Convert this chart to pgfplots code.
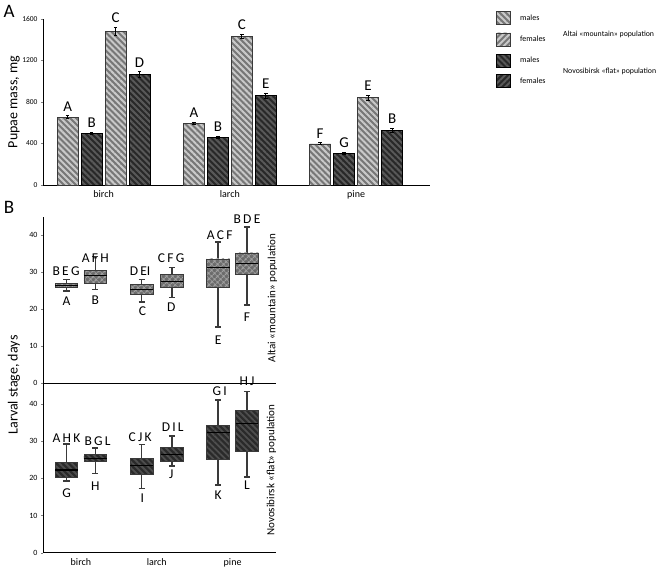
\documentclass[border=0pt]{standalone}
\usepackage{fontspec}
\setmainfont{Carlito}
\usepackage{pgfplots}
\pgfplotsset{compat=1.18}
\usepgfplotslibrary{statistics}
\usetikzlibrary{patterns.meta}

\definecolor{lmfill}{HTML}{777777}
\definecolor{lmline}{HTML}{C9C9C9}
\definecolor{dkfill}{HTML}{282828}
\definecolor{dkline}{HTML}{595959}
\definecolor{chkfill}{HTML}{6A6A6A}
\definecolor{chkline}{HTML}{A0A0A0}
\definecolor{boxdk}{HTML}{2A2A2A}
\definecolor{boxdkline}{HTML}{4E4E4E}
\definecolor{outl}{HTML}{3A3A3A}

\tikzset{
  lightM/.style={fill=lmfill, draw=outl, line width=0.6pt,
    postaction={pattern={Lines[angle=-45,distance=4.3pt,line width=2pt]}, pattern color=lmline}},
  lightF/.style={fill=lmfill, draw=outl, line width=0.6pt,
    postaction={pattern={Lines[angle=45,distance=4.3pt,line width=2pt]}, pattern color=lmline}},
  darkM/.style={fill=dkfill, draw=black, line width=0.6pt,
    postaction={pattern={Lines[angle=-45,distance=4.3pt,line width=2pt]}, pattern color=dkline}},
  darkF/.style={fill=dkfill, draw=black, line width=0.6pt,
    postaction={pattern={Lines[angle=45,distance=4.3pt,line width=2pt]}, pattern color=dkline}},
  lblA/.style={font=\fontsize{15}{16}\selectfont, anchor=base, inner sep=0pt},
  lblB/.style={font=\fontsize{13.5}{15}\selectfont, inner sep=0pt},
}
\pgfplotsset{
  sqlegend/.style={legend image code/.code={\draw[##1] (0pt,-6.5pt) rectangle (14pt,6.5pt);}},
  boxU/.style={draw=outl, line width=0.8pt,
    boxplot/every box/.style={fill=chkfill, draw=outl, line width=0.8pt,
      postaction={pattern={Hatch[angle=45,distance=4pt,line width=1.1pt]}, pattern color=chkline}},
    boxplot/every whisker/.style={draw=outl, line width=1.6pt},
    boxplot/every median/.style={draw=black, line width=1.1pt}},
  boxL/.style={draw=outl, line width=0.8pt,
    boxplot/every box/.style={fill=boxdk, draw=outl, line width=0.8pt,
      postaction={pattern={Lines[angle=-45,distance=4.3pt,line width=1.8pt]}, pattern color=boxdkline}},
    boxplot/every whisker/.style={draw=outl, line width=1.6pt},
    boxplot/every median/.style={draw=black, line width=1.1pt}},
}

\pgfplotstableread{
x y e l
0 652 15 A
1 592 12 A
2 397 10 F
}\altM
\pgfplotstableread{
x y e l
0 495 12 B
1 458 12 B
2 306 8 G
}\novM
\pgfplotstableread{
x y e l
0 1482 38 C
1 1432 22 C
2 841 25 E
}\altF
\pgfplotstableread{
x y e l
0 1063 30 D
1 862 25 E
2 525 20 B
}\novF

\begin{document}
\begin{tikzpicture}
\useasboundingbox (0,0) rectangle (661pt,568pt);

% ---------------- Panel A ----------------
\begin{axis}[
  scale only axis, width=387pt, height=166pt,
  at={(43pt,383pt)}, anchor=south west,
  ybar, bar width=21pt,
  xmin=-0.48, xmax=2.585, ymin=0, ymax=1600,
  axis x line*=bottom, axis y line*=left, axis line style={-, line width=0.8pt},
  xtick={0,1,2}, xticklabels={birch,larch,pine},
  ytick={0,400,800,1200,1600},
  x tick style={draw=none}, y tick style={line width=0.5pt},
  tick align=outside, major tick length=2pt,
  /pgf/number format/assume math mode=true,
  /pgf/number format/1000 sep={},
  yticklabel style={font=\fontsize{7.5}{8}\selectfont},
  xticklabel style={font=\fontsize{10}{11}\selectfont},
  clip=false,
  legend style={at={(1.168,1.048)}, anchor=north west, draw=none, fill=none,
    font=\fontsize{8}{9}\selectfont, row sep=7pt, inner sep=0pt,
    nodes={inner sep=0pt, anchor=west}, /tikz/every odd column/.append style={column sep=9pt}},
  legend cell align=left,
]
\addlegendimage{lightM, sqlegend}\addlegendentry{males}
\addlegendimage{lightF, sqlegend}\addlegendentry{females}
\addlegendimage{darkM, sqlegend}\addlegendentry{males}
\addlegendimage{darkF, sqlegend}\addlegendentry{females}

\addplot[lightM, bar shift=-36pt, error bars/.cd, y dir=both, y explicit,
  error bar style={draw=black, line width=1.1pt}, error mark options={rotate=90, mark size=1.8pt, line width=0.9pt, draw=black}]
  table[x=x, y=y, y error=e] {\altM};
\addplot[darkM, bar shift=-12pt, error bars/.cd, y dir=both, y explicit,
  error bar style={draw=black, line width=1.1pt}, error mark options={rotate=90, mark size=1.8pt, line width=0.9pt, draw=black}]
  table[x=x, y=y, y error=e] {\novM};
\addplot[lightM, bar shift=12pt, error bars/.cd, y dir=both, y explicit,
  error bar style={draw=black, line width=1.1pt}, error mark options={rotate=90, mark size=1.8pt, line width=0.9pt, draw=black}]
  table[x=x, y=y, y error=e] {\altF};
\addplot[darkM, bar shift=36pt, error bars/.cd, y dir=both, y explicit,
  error bar style={draw=black, line width=1.1pt}, error mark options={rotate=90, mark size=1.8pt, line width=0.9pt, draw=black}]
  table[x=x, y=y, y error=e] {\novF};

\node[lblA] at (axis cs:-0.285,667) [yshift=4.5pt] {A};
\node[lblA] at (axis cs:0.715,604) [yshift=4.5pt] {A};
\node[lblA] at (axis cs:1.715,407) [yshift=4.5pt] {F};
\node[lblA] at (axis cs:-0.095,507) [yshift=4.5pt] {B};
\node[lblA] at (axis cs:0.905,470) [yshift=4.5pt] {B};
\node[lblA] at (axis cs:1.905,314) [yshift=4.5pt] {G};
\node[lblA] at (axis cs:0.095,1520) [yshift=4.5pt] {C};
\node[lblA] at (axis cs:1.095,1454) [yshift=4.5pt] {C};
\node[lblA] at (axis cs:2.095,866) [yshift=4.5pt] {E};
\node[lblA] at (axis cs:0.285,1093) [yshift=4.5pt] {D};
\node[lblA] at (axis cs:1.285,887) [yshift=4.5pt] {E};
\node[lblA] at (axis cs:2.285,545) [yshift=4.5pt] {B};
\end{axis}

% ---------------- Panel B upper ----------------
\begin{axis}[
  scale only axis, width=233pt, height=166.6pt,
  at={(43pt,184.7pt)}, anchor=south west,
  xmin=-0.5, xmax=2.572, ymin=0, ymax=45,
  axis x line*=bottom, axis y line*=left, axis line style={-, line width=0.8pt},
  xtick=\empty, ytick={0,10,20,30,40},
  tick align=outside, major tick length=2pt,
  /pgf/number format/assume math mode=true,
  yticklabel style={font=\fontsize{8}{9}\selectfont},
  boxplot/draw direction=y,
  boxplot/box extend=0.30, boxplot/whisker extend=0.08,
  clip=false,
]
\addplot[boxU, boxplot prepared={draw position=-0.19, lower whisker=25.0, lower quartile=26.0, median=26.45, upper quartile=26.9, upper whisker=28.0}] coordinates {};
\addplot[boxU, boxplot prepared={draw position=0.19, lower whisker=25.3, lower quartile=27.1, median=29.2, upper quartile=30.4, upper whisker=34.3}] coordinates {};
\addplot[boxU, boxplot prepared={draw position=0.80, lower whisker=22.0, lower quartile=24.1, median=25.3, upper quartile=26.8, upper whisker=28.0}] coordinates {};
\addplot[boxU, boxplot prepared={draw position=1.20, lower whisker=23.2, lower quartile=26.0, median=27.4, upper quartile=29.4, upper whisker=31.3}] coordinates {};
\addplot[boxU, boxplot prepared={draw position=1.81, lower whisker=15.2, lower quartile=26.0, median=31.2, upper quartile=33.6, upper whisker=38.1}] coordinates {};
\addplot[boxU, boxplot prepared={draw position=2.19, lower whisker=21.2, lower quartile=29.3, median=32.3, upper quartile=35.2, upper whisker=42.2}] coordinates {};

\node[lblB] at (axis cs:-0.195,30.2) {B\,E\,G};
\node[lblB] at (axis cs:-0.19,22.1) {A};
\node[lblB] at (axis cs:0.19,33.9) {A\,F\,H};
\node[lblB] at (axis cs:0.19,22.4) {B};
\node[lblB] at (axis cs:0.78,30.2) {D\,EI};
\node[lblB] at (axis cs:0.81,19.4) {C};
\node[lblB] at (axis cs:1.19,33.8) {C\,F\,G};
\node[lblB] at (axis cs:1.19,20.5) {D};
\node[lblB] at (axis cs:1.83,40.0) {A\,C\,F};
\node[lblB] at (axis cs:1.81,11.7) {E};
\node[lblB] at (axis cs:2.19,44.2) {B\,D\,E};
\node[lblB] at (axis cs:2.19,17.9) {F};
\end{axis}

% ---------------- Panel B lower ----------------
\begin{axis}[
  scale only axis, width=233pt, height=169.4pt,
  at={(43pt,15.3pt)}, anchor=south west,
  xmin=-0.5, xmax=2.572, ymin=0, ymax=45.5,
  axis x line*=bottom, axis y line*=left, axis line style={-, line width=0.8pt},
  xtick={0,1,2}, xticklabels={birch,larch,pine},
  x tick style={draw=none},
  ytick={0,10,20,30,40},
  tick align=outside, major tick length=2pt,
  /pgf/number format/assume math mode=true,
  yticklabel style={font=\fontsize{8}{9}\selectfont},
  xticklabel style={font=\fontsize{10}{11}\selectfont},
  boxplot/draw direction=y,
  boxplot/box extend=0.30, boxplot/whisker extend=0.08,
  clip=false,
]
\addplot[boxL, boxplot prepared={draw position=-0.19, lower whisker=19.3, lower quartile=20.3, median=22.2, upper quartile=24.3, upper whisker=29.2}] coordinates {};
\addplot[boxL, boxplot prepared={draw position=0.19, lower whisker=21.3, lower quartile=24.4, median=25.3, upper quartile=26.3, upper whisker=28.2}] coordinates {};
\addplot[boxL, boxplot prepared={draw position=0.80, lower whisker=17.2, lower quartile=21.1, median=23.4, upper quartile=25.2, upper whisker=29.1}] coordinates {};
\addplot[boxL, boxplot prepared={draw position=1.20, lower whisker=23.3, lower quartile=24.4, median=26.3, upper quartile=28.3, upper whisker=31.4}] coordinates {};
\addplot[boxL, boxplot prepared={draw position=1.81, lower whisker=18.2, lower quartile=25.1, median=32.3, upper quartile=34.1, upper whisker=41.0}] coordinates {};
\addplot[boxL, boxplot prepared={draw position=2.19, lower whisker=20.4, lower quartile=27.3, median=34.8, upper quartile=38.2, upper whisker=43.3}] coordinates {};

\node[lblB] at (axis cs:-0.19,30.8) {A\,H\,K};
\node[lblB] at (axis cs:-0.19,16.0) {G};
\node[lblB] at (axis cs:0.22,30.0) {B\,G\,L};
\node[lblB] at (axis cs:0.19,18.0) {H};
\node[lblB] at (axis cs:0.78,31.0) {C\,J\,K};
\node[lblB] at (axis cs:0.81,14.6) {I};
\node[lblB] at (axis cs:1.21,33.6) {D\,I\,L};
\node[lblB] at (axis cs:1.19,21.0) {J};
\node[lblB] at (axis cs:1.83,43.5) {G\,I};
\node[lblB] at (axis cs:1.81,15.5) {K};
\node[lblB] at (axis cs:2.19,46.0) {H\,J};
\node[lblB] at (axis cs:2.19,18.2) {L};
\end{axis}

% ---------------- free text ----------------
\node[font=\fontsize{19}{20}\selectfont, inner sep=0pt] at (9pt,557pt) {A};
\node[font=\fontsize{19}{20}\selectfont, inner sep=0pt] at (9pt,361pt) {B};
\node[font=\fontsize{14}{15}\selectfont, rotate=90, inner sep=0pt] at (14pt,466pt) {Pupae mass, mg};
\node[font=\fontsize{14}{15}\selectfont, rotate=90, inner sep=0pt] at (14pt,183pt) {Larval stage, days};
\node[font=\fontsize{11}{12}\selectfont, rotate=90, inner sep=0pt] at (272.5pt,270pt) {Altai «mountain» population};
\node[font=\fontsize{11}{12}\selectfont, rotate=90, inner sep=0pt] at (271.5pt,98pt) {Novosibirsk «flat» population};
\node[font=\fontsize{7.8}{9}\selectfont, anchor=west, inner sep=0pt] at (563pt,534pt) {Altai «mountain» population};
\node[font=\fontsize{7.8}{9}\selectfont, anchor=west, inner sep=0pt] at (563pt,497pt) {Novosibirsk «flat» population};
\end{tikzpicture}
\end{document}
